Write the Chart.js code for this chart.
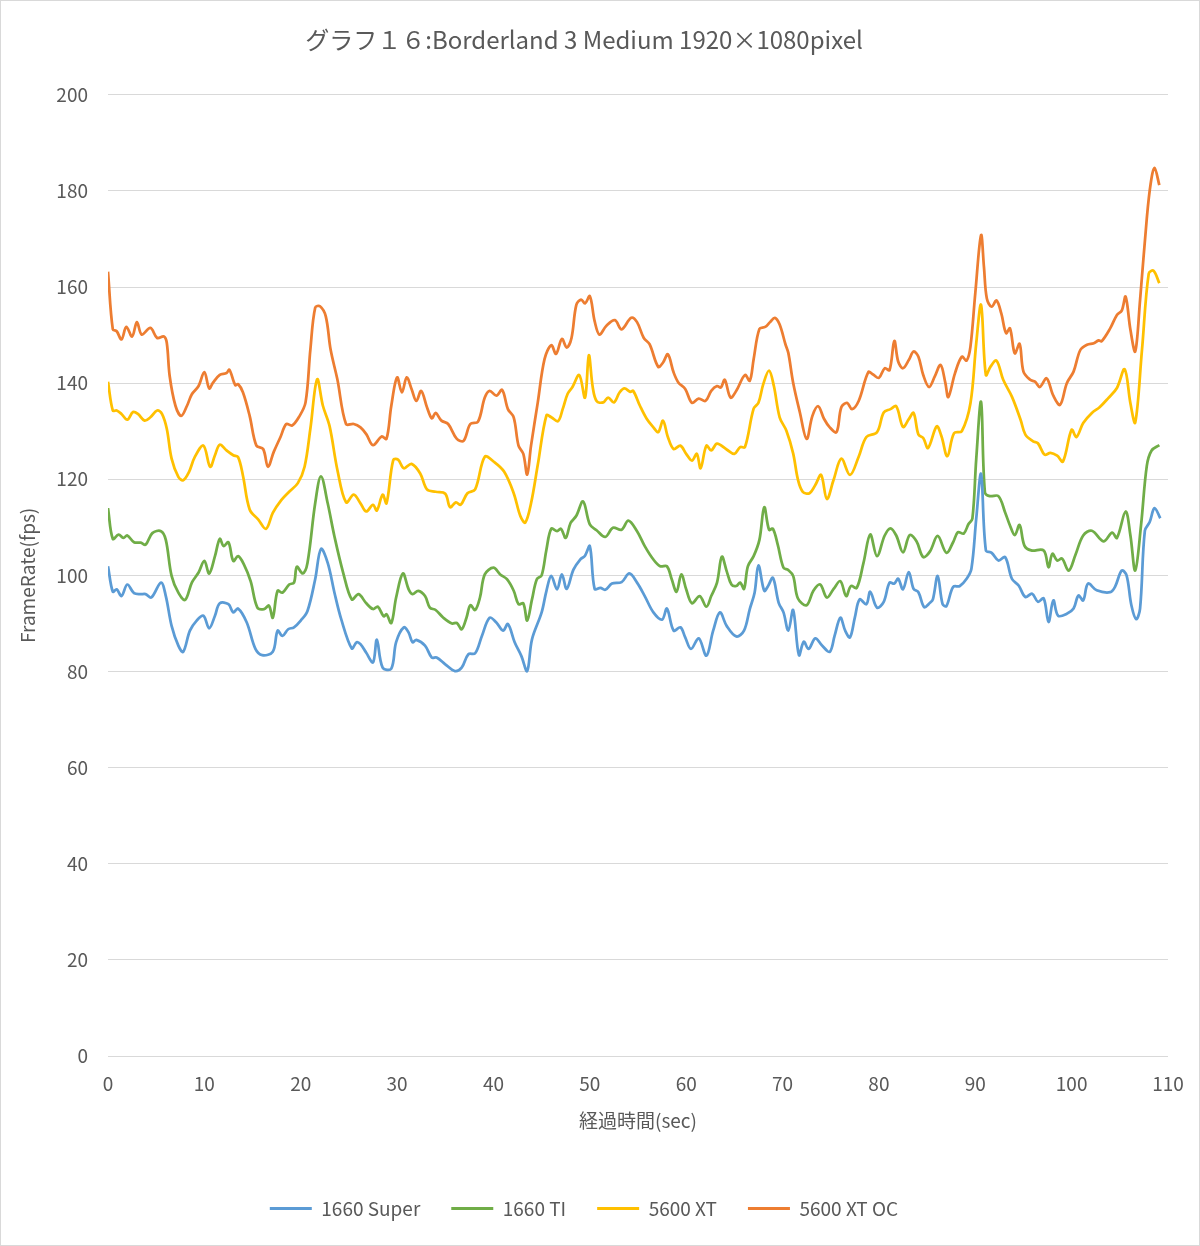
<!DOCTYPE html>
<html lang="ja">
  <head>
    <meta charset="UTF-8" />
    <title>グラフ１６</title>
    <script src="https://cdn.jsdelivr.net/npm/chart.js"></script>
    <style>
      body { margin: 0; background: #fff; }
    </style>
  </head>
  <body>
    <canvas id="fpsChart" width="1200" height="1246"></canvas>

    <script>
      const chartTitle = "グラフ１６:Borderland 3 Medium 1920×1080pixel";
      const seriesNames = ["1660 Super", "1660 TI", "5600 XT", "5600 XT OC"];
      const seriesColors = ["#5B9BD5", "#70AD47", "#FFC000", "#ED7D31"];

      // elapsed time (sec) / frame rate (fps)
      const timeSuper = [0,0.5,0.9,1.4,2.0,2.7,3.4,3.9,4.5,5.5,
        6.0,6.6,7.3,7.8,8.5,9.2,9.9,10.5,11.1,11.6,
        12.5,13.0,13.5,14.4,15.3,16.0,17.1,17.6,18.1,18.7,
        19.3,20.0,20.7,21.5,22.1,22.8,23.5,24.2,25.3,25.8,
        26.2,26.8,27.5,27.9,28.5,29.4,29.9,30.7,31.2,31.6,
        32.0,32.9,33.6,34.1,35.0,36.0,36.7,37.4,38.1,38.8,
        39.6,40.3,41.0,41.5,42.2,42.9,43.5,44.0,45.0,45.5,
        46.0,46.6,47.1,47.6,48.3,49.0,49.5,50.0,50.5,51.1,
        51.6,52.3,53.3,54.1,54.9,55.7,56.6,57.5,58.0,58.7,
        59.4,59.9,60.5,61.3,62.1,62.8,63.5,64.2,65.2,66.0,
        66.6,67.1,67.5,68.1,68.5,69.0,69.6,70.1,70.6,71.1,
        71.7,72.2,72.7,73.4,74.1,74.9,75.4,76.0,76.5,77.0,
        77.5,78.0,78.7,79.1,79.8,80.5,81.1,81.6,82.0,82.5,
        83.1,83.6,84.1,84.7,85.3,85.6,86.1,86.6,87.0,87.7,
        88.4,89.1,89.6,90.1,90.6,91.1,91.7,92.4,93.1,93.8,
        94.5,95.2,95.9,96.5,97.1,97.6,98.1,98.6,99.5,100.2,
        100.7,101.2,101.7,102.6,104.0,104.5,105.2,105.7,106.2,106.7,
        107.1,107.6,108.1,108.6,109.2];
      const fpsSuper = [101.9,96.6,97.1,95.7,98.1,96.3,96.1,96.1,95.4,98.5,
        95.7,89.5,85.4,84.1,88.5,90.6,91.6,89.0,91.6,94.2,
        94.0,92.3,93.1,90.2,84.7,83.4,84.1,88.5,87.4,88.8,
        89.2,90.6,92.6,99.2,105.5,102.6,96.4,90.9,84.8,86.1,
        85.7,83.9,81.9,86.6,80.8,80.6,86.1,89.2,88.1,86.1,
        86.6,85.4,82.9,82.9,81.5,80.1,80.8,83.6,83.8,87.4,
        91.2,90.2,88.5,89.9,86.1,83.2,80.1,86.7,92.3,96.8,
        99.9,97.1,100.2,97.2,101.2,103.3,104.1,106.1,97.2,97.4,
        97.0,98.3,98.6,100.4,98.5,95.7,92.3,90.8,93.1,88.5,
        89.2,87.1,84.7,86.9,83.3,88.5,92.3,89.5,87.3,88.5,
        93.0,96.4,102.1,96.8,97.8,99.5,94.3,92.3,88.5,92.8,
        83.4,86.2,84.7,86.9,85.4,84.1,87.4,91.2,88.5,87.1,
        91.2,95.0,94.0,96.6,93.3,94.5,98.5,98.3,99.3,97.1,
        100.7,97.2,96.5,93.4,94.3,95.0,99.9,94.1,93.6,97.6,
        97.8,99.3,101.4,111.8,121.1,105.2,104.7,103.1,103.8,99.3,
        97.9,95.5,96.2,94.5,95.2,90.3,94.8,91.6,92.0,93.1,
        95.8,94.8,98.3,96.9,96.5,97.6,101.0,100.0,93.8,90.9,
        93.1,109.3,111.1,114.0,111.9];

      const timeTi = [0,0.5,1.1,1.6,2.0,2.7,3.4,3.9,4.6,5.5,
        6.0,6.6,7.3,8.0,8.7,9.4,10.0,10.5,11.1,11.6,
        12.0,12.5,13.0,13.5,14.1,14.8,15.5,16.2,16.7,17.1,
        17.6,18.1,18.8,19.3,19.6,20.2,20.7,21.5,22.1,22.8,
        23.5,24.4,25.3,26.0,26.8,27.5,28.0,28.6,28.9,29.4,
        29.9,30.6,31.2,31.6,32.2,32.9,33.4,34.0,34.8,35.7,
        36.2,36.7,37.2,37.6,38.1,38.6,39.1,40.0,40.7,41.4,
        42.1,42.6,43.1,43.5,44.0,44.5,45.0,45.5,46.0,46.6,
        47.0,47.5,48.0,48.6,49.3,50.0,50.7,51.6,52.4,53.3,
        54.0,54.9,55.7,56.6,57.3,58.0,58.5,59.0,59.5,60.0,
        60.6,61.4,62.1,62.6,63.2,63.7,64.2,64.7,65.2,65.6,
        66.0,66.4,67.0,67.6,68.1,68.6,69.0,69.5,70.1,70.6,
        71.1,71.6,72.5,73.2,73.9,74.6,75.3,76.0,76.6,77.1,
        77.7,78.4,79.1,79.8,80.6,81.2,81.8,82.5,83.2,83.9,
        84.6,85.3,86.1,87.0,87.7,88.2,88.8,89.3,89.7,90.1,
        90.6,91.0,91.5,92.4,93.1,93.6,94.1,94.6,95.1,95.8,
        97.1,97.6,98.0,98.5,99.0,99.7,100.4,101.2,102.1,103.3,
        104.2,104.7,105.6,106.1,106.6,107.2,107.8,108.3,109.1];
      const fpsTi = [114.0,107.6,108.5,107.8,108.3,106.9,106.8,106.4,108.8,109.2,
        107.4,99.9,96.4,94.9,98.5,100.6,103.0,100.4,104.0,107.6,
        106.1,106.9,103.0,104.0,102.3,98.8,93.3,93.0,93.7,91.2,
        96.8,96.4,98.1,98.5,101.8,100.4,102.6,115.0,120.6,115.0,
        108.1,100.6,95.0,96.1,94.2,93.0,93.5,91.5,91.9,90.1,
        95.4,100.4,97.1,96.1,96.8,95.7,93.3,92.8,91.2,90.0,
        90.1,88.8,91.2,93.8,92.8,95.4,100.2,101.6,100.2,99.2,
        96.8,94.0,94.2,90.6,95.0,99.2,100.0,105.4,109.7,109.2,
        109.7,107.8,110.9,112.4,115.4,110.6,109.4,108.0,109.9,109.5,
        111.4,109.2,106.1,103.3,101.9,101.9,99.2,96.6,100.2,97.1,
        94.2,95.7,93.5,95.7,98.5,103.9,100.9,98.1,97.8,98.5,
        97.2,101.9,104.0,107.4,114.2,109.5,109.7,106.4,101.6,101.1,
        99.9,95.2,93.8,96.8,98.1,95.4,97.2,98.8,95.7,97.8,
        97.4,102.6,108.5,104.0,108.3,109.8,108.3,104.8,108.4,107.1,
        103.8,105.0,108.2,104.7,106.9,109.0,108.7,110.7,111.8,124.2,
        136.1,117.3,116.5,116.5,113.1,110.4,108.4,110.5,106.2,105.2,
        105.2,101.7,104.5,103.1,103.5,101.0,104.3,108.3,109.3,107.1,
        108.9,107.8,113.3,108.3,101.0,110.4,122.8,126.0,127.1];

      const timeXt = [0,0.5,0.9,1.4,2.0,2.6,3.1,3.8,4.4,5.1,
        5.6,6.1,6.6,7.3,7.8,8.4,9.0,9.9,10.6,11.1,
        11.6,12.3,13.0,13.5,14.0,14.7,15.6,16.4,17.1,18.0,
        18.8,19.7,20.4,21.0,21.7,22.3,23.0,23.8,24.7,25.5,
        26.2,26.8,27.5,27.9,28.5,28.9,29.6,30.1,30.7,31.5,
        32.4,33.1,34.0,35.0,35.5,36.1,36.6,37.3,38.1,39.1,
        40.0,41.1,42.1,42.8,43.3,43.9,44.6,45.5,46.0,46.7,
        47.2,47.7,48.2,48.9,49.5,49.9,50.3,50.7,51.4,51.9,
        52.5,53.1,53.6,54.2,54.5,55.2,55.9,56.6,57.1,57.6,
        58.1,58.7,59.4,60.0,60.6,61.1,61.5,62.1,62.6,63.2,
        64.2,65.0,65.6,66.1,67.0,67.5,68.0,68.6,69.1,69.7,
        70.4,71.1,71.6,72.1,72.8,73.4,74.0,74.6,75.3,76.1,
        77.0,77.9,78.7,79.8,80.5,81.2,81.8,82.5,83.1,83.6,
        84.1,84.6,85.1,86.0,86.5,87.1,87.8,88.6,89.5,90.1,
        90.6,91.1,91.6,92.2,92.9,93.8,94.7,95.2,96.0,96.5,
        97.2,97.8,98.5,99.1,100.0,100.5,101.2,102.1,102.9,103.8,
        104.7,105.5,106.1,106.6,107.3,108.0,108.5,109.1];
      const fpsXt = [140.3,134.3,134.3,133.6,132.4,134.0,133.6,132.2,132.9,134.3,
        133.6,130.5,124.3,120.5,119.8,121.5,124.6,127.0,122.6,125.0,
        127.2,126.0,125.0,124.6,120.8,113.7,111.6,109.7,113.0,115.7,
        117.4,119.2,122.6,130.5,140.8,135.3,131.0,122.0,115.2,116.8,
        115.0,113.3,114.7,113.5,116.8,115.0,124.0,124.1,122.3,123.2,
        121.2,117.9,117.4,117.0,114.2,115.2,114.7,117.1,117.9,124.7,
        123.7,121.6,117.1,112.3,111.0,115.0,123.0,133.3,132.9,132.1,
        134.7,137.8,139.2,141.7,137.0,145.8,139.2,136.3,136.0,137.0,
        136.0,138.1,138.9,138.2,138.4,135.3,132.6,130.8,129.8,132.2,
        128.8,126.3,127.0,125.3,123.9,125.3,122.3,127.0,126.0,127.4,
        126.2,125.3,126.7,126.7,134.7,135.9,139.8,142.6,139.4,132.9,
        130.1,125.4,119.9,117.4,117.1,118.8,120.9,115.9,119.9,124.3,
        120.9,124.7,128.8,129.8,133.9,134.6,135.2,130.9,132.5,133.8,
        129.3,128.6,126.5,131.0,128.9,124.8,129.6,130.0,135.8,148.3,
        156.3,141.7,143.5,144.7,140.7,137.2,132.4,129.3,127.9,127.5,
        125.1,125.5,124.9,123.7,130.3,128.8,131.7,133.8,135.0,136.9,
        139.0,142.9,135.8,131.8,146.9,162.8,163.4,160.8];

      const timeXtOc = [0,0.5,0.9,1.4,1.9,2.5,3.0,3.5,4.4,5.1,
        5.8,6.1,6.4,7.0,7.6,8.2,8.7,9.4,10.0,10.5,
        10.9,11.6,12.3,12.6,13.2,13.5,14.0,14.7,15.4,16.1,
        16.6,17.2,17.9,18.5,19.1,19.8,20.5,21.0,21.5,22.0,
        22.6,23.1,23.8,24.7,25.5,26.2,26.8,27.5,28.4,28.9,
        29.4,30.0,30.5,31.0,31.5,32.0,32.5,33.1,33.6,34.0,
        34.6,35.3,36.2,36.9,37.6,38.4,39.1,39.6,40.3,40.9,
        41.5,42.1,42.6,43.1,43.5,43.9,44.6,45.3,46.0,46.5,
        47.1,47.6,48.1,48.6,49.1,49.5,50.0,50.5,51.0,51.7,
        52.6,53.3,54.3,54.9,55.6,56.2,57.1,57.6,58.1,58.7,
        59.2,59.9,60.6,61.3,62.0,62.6,63.2,63.6,64.0,64.6,
        65.2,66.1,66.6,67.0,67.6,68.2,68.7,69.2,69.7,70.3,
        70.6,71.1,71.8,72.5,73.1,73.7,74.3,74.9,75.6,76.1,
        76.7,77.2,77.9,78.9,79.4,80.0,80.6,81.1,81.6,82.0,
        82.5,83.1,83.6,84.1,84.6,85.2,85.8,86.4,86.9,87.2,
        87.9,88.6,89.1,89.5,90.0,90.6,90.9,91.2,91.7,92.2,
        92.7,93.2,93.6,94.1,94.6,95.0,95.7,96.2,96.7,97.4,
        98.1,98.8,99.5,100.2,100.9,101.6,102.3,102.8,103.1,104.0,
        104.7,105.2,105.6,106.1,106.6,107.1,107.8,108.2,108.6,109.1];
      const fpsXtOc = [163.2,151.2,150.8,149.1,151.7,149.7,152.7,150.1,151.5,149.4,
        149.7,148.4,141.5,135.3,133.2,135.3,137.7,139.4,142.3,138.9,
        140.1,141.7,142.1,142.8,139.6,139.8,138.1,133.2,127.0,126.3,
        122.6,125.7,128.8,131.5,131.2,132.9,136.0,147.0,155.7,156.0,
        153.9,147.0,140.8,131.5,131.5,130.8,129.4,127.1,128.9,128.4,
        135.3,141.2,138.1,141.2,138.8,136.3,138.4,135.0,132.7,133.8,
        132.2,131.5,128.4,128.0,131.5,132.0,137.0,138.4,137.4,138.6,
        134.6,132.9,127.0,125.3,121.0,127.0,136.0,145.0,147.9,146.1,
        149.2,147.4,149.4,156.3,157.4,156.6,158.1,152.9,150.1,151.9,
        153.1,151.2,153.6,152.7,149.4,148.1,143.4,144.3,146.0,142.2,
        140.1,138.8,135.9,136.8,136.3,138.4,139.4,139.1,140.7,137.0,
        138.4,141.7,140.5,145.0,151.3,151.7,152.7,153.6,152.2,148.1,
        146.3,140.1,133.9,128.4,133.2,135.2,132.6,130.8,129.8,135.0,
        135.9,134.6,136.3,142.3,141.8,141.1,143.1,142.7,148.8,144.5,
        143.1,144.8,146.6,145.5,141.7,139.2,141.4,143.8,140.0,137.1,
        142.1,145.5,144.7,147.6,158.7,170.8,164.2,157.6,155.9,157.2,
        154.5,150.4,151.4,146.2,148.2,142.4,140.7,140.3,139.2,141.0,
        137.4,135.5,140.0,142.4,146.9,148.0,148.3,148.9,148.7,151.4,
        154.2,155.1,158.0,151.1,146.6,157.3,174.3,181.5,184.8,181.2];

      const seriesTimes = [timeSuper, timeTi, timeXt, timeXtOc];
      const seriesFps = [fpsSuper, fpsTi, fpsXt, fpsXtOc];

      const fontFamily = "'Noto Sans CJK JP', 'Noto Sans', sans-serif";
      const textColor = "#595959";
      const gridColor = "#d9d9d9";

      // white background + thin outer frame, like the Excel chart
      const framePlugin = {
        id: "frame",
        beforeDraw(chart) {
          const c = chart.ctx;
          c.save();
          c.fillStyle = "#fff";
          c.fillRect(0, 0, chart.width, chart.height);
          c.strokeStyle = gridColor;
          c.lineWidth = 1;
          c.strokeRect(0.5, 0.5, chart.width - 1, chart.height - 1);
          c.restore();
        },
      };

      const datasets = seriesNames.map((name, i) => ({
        label: name,
        data: seriesTimes[i].map((t, j) => ({ x: t, y: seriesFps[i][j] })),
        borderColor: seriesColors[i],
        backgroundColor: seriesColors[i],
        borderWidth: 2.75,
        pointRadius: 0,
        tension: 0.35,
      }));

      const ctx = document.getElementById("fpsChart").getContext("2d");
      new Chart(ctx, {
        type: "line",
        data: { datasets },
        plugins: [framePlugin],
        options: {
          responsive: false,
          animation: false,
          devicePixelRatio: 1,
          layout: { padding: { left: 0, right: 32, top: 0, bottom: 18 } },
          plugins: {
            title: {
              display: true,
              text: chartTitle,
              color: textColor,
              font: { family: fontFamily, size: 24, weight: "normal" },
              padding: { top: 25, bottom: 41 },
            },
            legend: {
              position: "bottom",
              labels: {
                color: textColor,
                font: { family: fontFamily, size: 19 },
                boxWidth: 42,
                boxHeight: 3,
                padding: 31,
                generateLabels(chart) {
                  const items = Chart.defaults.plugins.legend.labels.generateLabels(chart);
                  items.forEach(it => { it.lineWidth = 0; });
                  return items;
                },
              },
            },
            tooltip: { enabled: false },
          },
          scales: {
            x: {
              type: "linear",
              min: 0,
              max: 110,
              ticks: {
                stepSize: 10,
                color: textColor,
                font: { family: fontFamily, size: 19 },
                padding: 8,
                maxRotation: 0,
              },
              grid: { display: false },
              border: { display: false },
              title: {
                display: true,
                text: "経過時間(sec)",
                color: textColor,
                font: { family: fontFamily, size: 19 },
                padding: { top: 0, bottom: 36 },
              },
              afterFit(scale) { scale.height = 112; },
            },
            y: {
              min: 0,
              max: 200,
              ticks: {
                stepSize: 20,
                color: textColor,
                font: { family: fontFamily, size: 19 },
                padding: 20,
              },
              grid: { color: gridColor, lineWidth: 1, drawTicks: false },
              border: { display: false },
              title: {
                display: true,
                text: "FrameRate(fps)",
                color: textColor,
                font: { family: fontFamily, size: 19 },
                padding: { top: 16, bottom: 0 },
              },
              afterFit(scale) { scale.width = 108; },
            },
          },
        },
      });
    </script>
  </body>
</html>
